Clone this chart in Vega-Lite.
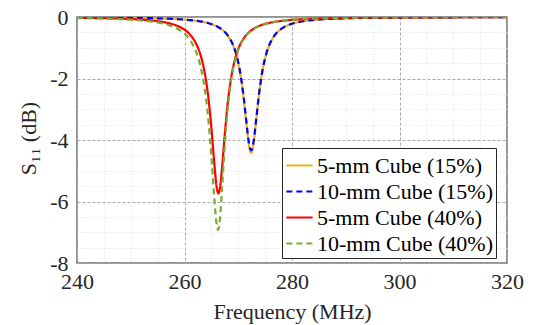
{
  "$schema": "https://vega.github.io/schema/vega-lite/v6.json",
  "width": 430,
  "height": 246,
  "autosize": {"type": "none"},
  "padding": {"left": 77, "top": 17, "right": 34, "bottom": 62},
  "background": "white",
  "config": {
    "view": {"stroke": "#707070", "strokeWidth": 1.5},
    "font": "Liberation Serif",
    "legend": {
      "orient": "none", "legendX": 205, "legendY": 131, "direction": "vertical",
      "fillColor": "white", "strokeColor": "#262626", "padding": 3,
      "labelFont": "Liberation Serif", "labelFontSize": 22, "labelColor": "#000000", "labelLimit": 400,
      "symbolType": "stroke", "symbolSize": 690, "symbolStrokeWidth": 2,
      "rowPadding": 0, "labelOffset": 3, "cornerRadius": 0
    }
  },
  "data": {"values": [
    {"series": "5-mm Cube (15%)", "freq": 240, "s11": -0.0128},
    {"series": "5-mm Cube (15%)", "freq": 245, "s11": -0.0178},
    {"series": "5-mm Cube (15%)", "freq": 250, "s11": -0.0266},
    {"series": "5-mm Cube (15%)", "freq": 254, "s11": -0.0393},
    {"series": "5-mm Cube (15%)", "freq": 257, "s11": -0.0559},
    {"series": "5-mm Cube (15%)", "freq": 259, "s11": -0.0735},
    {"series": "5-mm Cube (15%)", "freq": 261, "s11": -0.1008},
    {"series": "5-mm Cube (15%)", "freq": 263, "s11": -0.1465},
    {"series": "5-mm Cube (15%)", "freq": 264.5, "s11": -0.2045},
    {"series": "5-mm Cube (15%)", "freq": 266, "s11": -0.3037},
    {"series": "5-mm Cube (15%)", "freq": 267, "s11": -0.4142},
    {"series": "5-mm Cube (15%)", "freq": 268, "s11": -0.5939},
    {"series": "5-mm Cube (15%)", "freq": 268.5, "s11": -0.7276},
    {"series": "5-mm Cube (15%)", "freq": 269, "s11": -0.9076},
    {"series": "5-mm Cube (15%)", "freq": 269.5, "s11": -1.1545},
    {"series": "5-mm Cube (15%)", "freq": 270, "s11": -1.498},
    {"series": "5-mm Cube (15%)", "freq": 270.5, "s11": -1.979},
    {"series": "5-mm Cube (15%)", "freq": 271, "s11": -2.635},
    {"series": "5-mm Cube (15%)", "freq": 271.5, "s11": -3.443},
    {"series": "5-mm Cube (15%)", "freq": 272, "s11": -4.186},
    {"series": "5-mm Cube (15%)", "freq": 272.4, "s11": -4.425},
    {"series": "5-mm Cube (15%)", "freq": 272.8, "s11": -4.186},
    {"series": "5-mm Cube (15%)", "freq": 273.3, "s11": -3.443},
    {"series": "5-mm Cube (15%)", "freq": 273.8, "s11": -2.635},
    {"series": "5-mm Cube (15%)", "freq": 274.3, "s11": -1.979},
    {"series": "5-mm Cube (15%)", "freq": 274.8, "s11": -1.498},
    {"series": "5-mm Cube (15%)", "freq": 275.3, "s11": -1.1545},
    {"series": "5-mm Cube (15%)", "freq": 275.8, "s11": -0.9076},
    {"series": "5-mm Cube (15%)", "freq": 276.5, "s11": -0.6694},
    {"series": "5-mm Cube (15%)", "freq": 277.5, "s11": -0.4588},
    {"series": "5-mm Cube (15%)", "freq": 278.5, "s11": -0.3318},
    {"series": "5-mm Cube (15%)", "freq": 280, "s11": -0.2201},
    {"series": "5-mm Cube (15%)", "freq": 282, "s11": -0.1407},
    {"series": "5-mm Cube (15%)", "freq": 285, "s11": -0.0829},
    {"series": "5-mm Cube (15%)", "freq": 290, "s11": -0.0429},
    {"series": "5-mm Cube (15%)", "freq": 296, "s11": -0.0240},
    {"series": "5-mm Cube (15%)", "freq": 304, "s11": -0.0134},
    {"series": "5-mm Cube (15%)", "freq": 312, "s11": -0.0085},
    {"series": "5-mm Cube (15%)", "freq": 320, "s11": -0.0059},

    {"series": "10-mm Cube (15%)", "freq": 240, "s11": -0.0126},
    {"series": "10-mm Cube (15%)", "freq": 245, "s11": -0.0176},
    {"series": "10-mm Cube (15%)", "freq": 250, "s11": -0.0263},
    {"series": "10-mm Cube (15%)", "freq": 254, "s11": -0.0389},
    {"series": "10-mm Cube (15%)", "freq": 257, "s11": -0.0553},
    {"series": "10-mm Cube (15%)", "freq": 259, "s11": -0.0727},
    {"series": "10-mm Cube (15%)", "freq": 261, "s11": -0.0997},
    {"series": "10-mm Cube (15%)", "freq": 263, "s11": -0.1449},
    {"series": "10-mm Cube (15%)", "freq": 264.5, "s11": -0.2022},
    {"series": "10-mm Cube (15%)", "freq": 266, "s11": -0.3002},
    {"series": "10-mm Cube (15%)", "freq": 267, "s11": -0.4095},
    {"series": "10-mm Cube (15%)", "freq": 268, "s11": -0.5869},
    {"series": "10-mm Cube (15%)", "freq": 268.5, "s11": -0.719},
    {"series": "10-mm Cube (15%)", "freq": 269, "s11": -0.8966},
    {"series": "10-mm Cube (15%)", "freq": 269.5, "s11": -1.140},
    {"series": "10-mm Cube (15%)", "freq": 270, "s11": -1.479},
    {"series": "10-mm Cube (15%)", "freq": 270.5, "s11": -1.952},
    {"series": "10-mm Cube (15%)", "freq": 271, "s11": -2.595},
    {"series": "10-mm Cube (15%)", "freq": 271.5, "s11": -3.386},
    {"series": "10-mm Cube (15%)", "freq": 272, "s11": -4.109},
    {"series": "10-mm Cube (15%)", "freq": 272.4, "s11": -4.342},
    {"series": "10-mm Cube (15%)", "freq": 272.8, "s11": -4.109},
    {"series": "10-mm Cube (15%)", "freq": 273.3, "s11": -3.386},
    {"series": "10-mm Cube (15%)", "freq": 273.8, "s11": -2.595},
    {"series": "10-mm Cube (15%)", "freq": 274.3, "s11": -1.952},
    {"series": "10-mm Cube (15%)", "freq": 274.8, "s11": -1.479},
    {"series": "10-mm Cube (15%)", "freq": 275.3, "s11": -1.140},
    {"series": "10-mm Cube (15%)", "freq": 275.8, "s11": -0.8966},
    {"series": "10-mm Cube (15%)", "freq": 276.5, "s11": -0.6615},
    {"series": "10-mm Cube (15%)", "freq": 277.5, "s11": -0.4535},
    {"series": "10-mm Cube (15%)", "freq": 278.5, "s11": -0.328},
    {"series": "10-mm Cube (15%)", "freq": 280, "s11": -0.2176},
    {"series": "10-mm Cube (15%)", "freq": 282, "s11": -0.1392},
    {"series": "10-mm Cube (15%)", "freq": 285, "s11": -0.0820},
    {"series": "10-mm Cube (15%)", "freq": 290, "s11": -0.0425},
    {"series": "10-mm Cube (15%)", "freq": 296, "s11": -0.0237},
    {"series": "10-mm Cube (15%)", "freq": 304, "s11": -0.0133},
    {"series": "10-mm Cube (15%)", "freq": 312, "s11": -0.0084},
    {"series": "10-mm Cube (15%)", "freq": 320, "s11": -0.0059},

    {"series": "5-mm Cube (40%)", "freq": 240, "s11": -0.0257},
    {"series": "5-mm Cube (40%)", "freq": 244, "s11": -0.0357},
    {"series": "5-mm Cube (40%)", "freq": 248, "s11": -0.0528},
    {"series": "5-mm Cube (40%)", "freq": 251, "s11": -0.0752},
    {"series": "5-mm Cube (40%)", "freq": 254, "s11": -0.1155},
    {"series": "5-mm Cube (40%)", "freq": 256, "s11": -0.1631},
    {"series": "5-mm Cube (40%)", "freq": 257.5, "s11": -0.2208},
    {"series": "5-mm Cube (40%)", "freq": 259, "s11": -0.3147},
    {"series": "5-mm Cube (40%)", "freq": 260, "s11": -0.4138},
    {"series": "5-mm Cube (40%)", "freq": 261, "s11": -0.5658},
    {"series": "5-mm Cube (40%)", "freq": 262, "s11": -0.8134},
    {"series": "5-mm Cube (40%)", "freq": 262.5, "s11": -0.9978},
    {"series": "5-mm Cube (40%)", "freq": 263, "s11": -1.2461},
    {"series": "5-mm Cube (40%)", "freq": 263.5, "s11": -1.5862},
    {"series": "5-mm Cube (40%)", "freq": 264, "s11": -2.0586},
    {"series": "5-mm Cube (40%)", "freq": 264.5, "s11": -2.7155},
    {"series": "5-mm Cube (40%)", "freq": 265, "s11": -3.600},
    {"series": "5-mm Cube (40%)", "freq": 265.5, "s11": -4.660},
    {"series": "5-mm Cube (40%)", "freq": 266, "s11": -5.551},
    {"series": "5-mm Cube (40%)", "freq": 266.3, "s11": -5.735},
    {"series": "5-mm Cube (40%)", "freq": 266.6, "s11": -5.551},
    {"series": "5-mm Cube (40%)", "freq": 267, "s11": -4.870},
    {"series": "5-mm Cube (40%)", "freq": 267.5, "s11": -3.803},
    {"series": "5-mm Cube (40%)", "freq": 268, "s11": -2.873},
    {"series": "5-mm Cube (40%)", "freq": 268.5, "s11": -2.173},
    {"series": "5-mm Cube (40%)", "freq": 269, "s11": -1.6685},
    {"series": "5-mm Cube (40%)", "freq": 269.5, "s11": -1.3057},
    {"series": "5-mm Cube (40%)", "freq": 270, "s11": -1.0417},
    {"series": "5-mm Cube (40%)", "freq": 271, "s11": -0.6987},
    {"series": "5-mm Cube (40%)", "freq": 272, "s11": -0.4966},
    {"series": "5-mm Cube (40%)", "freq": 273, "s11": -0.3693},
    {"series": "5-mm Cube (40%)", "freq": 274.5, "s11": -0.2526},
    {"series": "5-mm Cube (40%)", "freq": 276, "s11": -0.1831},
    {"series": "5-mm Cube (40%)", "freq": 278, "s11": -0.1273},
    {"series": "5-mm Cube (40%)", "freq": 281, "s11": -0.0814},
    {"series": "5-mm Cube (40%)", "freq": 285, "s11": -0.0506},
    {"series": "5-mm Cube (40%)", "freq": 290, "s11": -0.0316},
    {"series": "5-mm Cube (40%)", "freq": 298, "s11": -0.0177},
    {"series": "5-mm Cube (40%)", "freq": 308, "s11": -0.0103},
    {"series": "5-mm Cube (40%)", "freq": 320, "s11": -0.0062},

    {"series": "10-mm Cube (40%)", "freq": 240, "s11": -0.0338},
    {"series": "10-mm Cube (40%)", "freq": 244, "s11": -0.0469},
    {"series": "10-mm Cube (40%)", "freq": 248, "s11": -0.0694},
    {"series": "10-mm Cube (40%)", "freq": 251, "s11": -0.0989},
    {"series": "10-mm Cube (40%)", "freq": 254, "s11": -0.1518},
    {"series": "10-mm Cube (40%)", "freq": 256, "s11": -0.2145},
    {"series": "10-mm Cube (40%)", "freq": 257.5, "s11": -0.2903},
    {"series": "10-mm Cube (40%)", "freq": 259, "s11": -0.4135},
    {"series": "10-mm Cube (40%)", "freq": 260, "s11": -0.5432},
    {"series": "10-mm Cube (40%)", "freq": 261, "s11": -0.7417},
    {"series": "10-mm Cube (40%)", "freq": 262, "s11": -1.0627},
    {"series": "10-mm Cube (40%)", "freq": 262.5, "s11": -1.3003},
    {"series": "10-mm Cube (40%)", "freq": 263, "s11": -1.618},
    {"series": "10-mm Cube (40%)", "freq": 263.5, "s11": -2.049},
    {"series": "10-mm Cube (40%)", "freq": 264, "s11": -2.642},
    {"series": "10-mm Cube (40%)", "freq": 264.5, "s11": -3.454},
    {"series": "10-mm Cube (40%)", "freq": 265, "s11": -4.527},
    {"series": "10-mm Cube (40%)", "freq": 265.5, "s11": -5.780},
    {"series": "10-mm Cube (40%)", "freq": 266, "s11": -6.772},
    {"series": "10-mm Cube (40%)", "freq": 266.25, "s11": -6.925},
    {"series": "10-mm Cube (40%)", "freq": 266.6, "s11": -6.556},
    {"series": "10-mm Cube (40%)", "freq": 267, "s11": -5.535},
    {"series": "10-mm Cube (40%)", "freq": 267.5, "s11": -4.148},
    {"series": "10-mm Cube (40%)", "freq": 268, "s11": -3.052},
    {"series": "10-mm Cube (40%)", "freq": 268.5, "s11": -2.271},
    {"series": "10-mm Cube (40%)", "freq": 269, "s11": -1.7266},
    {"series": "10-mm Cube (40%)", "freq": 269.5, "s11": -1.3429},
    {"series": "10-mm Cube (40%)", "freq": 270, "s11": -1.0672},
    {"series": "10-mm Cube (40%)", "freq": 271, "s11": -0.7129},
    {"series": "10-mm Cube (40%)", "freq": 272, "s11": -0.5057},
    {"series": "10-mm Cube (40%)", "freq": 273, "s11": -0.3759},
    {"series": "10-mm Cube (40%)", "freq": 274.5, "s11": -0.2571},
    {"series": "10-mm Cube (40%)", "freq": 276, "s11": -0.1864},
    {"series": "10-mm Cube (40%)", "freq": 278, "s11": -0.1296},
    {"series": "10-mm Cube (40%)", "freq": 281, "s11": -0.0829},
    {"series": "10-mm Cube (40%)", "freq": 285, "s11": -0.0516},
    {"series": "10-mm Cube (40%)", "freq": 290, "s11": -0.0323},
    {"series": "10-mm Cube (40%)", "freq": 298, "s11": -0.0181},
    {"series": "10-mm Cube (40%)", "freq": 308, "s11": -0.0105},
    {"series": "10-mm Cube (40%)", "freq": 320, "s11": -0.0063}
  ]},
  "mark": {"type": "line", "strokeWidth": 2.2, "interpolate": "monotone", "clip": true},
  "encoding": {
    "x": {
      "field": "freq", "type": "quantitative",
      "scale": {"domain": [240, 320], "nice": false},
      "axis": {
        "values": [240,245,250,255,260,265,270,275,280,285,290,295,300,305,310,315,320],
        "labelExpr": "datum.value % 20 === 0 ? datum.label : ''",
        "labelOverlap": false, "labelFlush": false,
        "labelFont": "Liberation Serif", "labelFontSize": 22, "labelColor": "#262626", "labelPadding": 8,
        "title": "Frequency (MHz)", "titleFont": "Liberation Serif", "titleFontSize": 22, "titleFontWeight": "normal",
        "titleColor": "#262626", "titleY": 55, "titleBaseline": "alphabetic",
        "domain": false, "ticks": false,
        "grid": true,
        "gridColor": {"condition": {"test": "datum.value % 20 === 0", "value": "#a8a8a8"}, "value": "#e0e0e0"},
        "gridDash": {"condition": {"test": "datum.value % 20 === 0", "value": [3, 2]}, "value": [1, 2]},
        "gridWidth": 1
      }
    },
    "y": {
      "field": "s11", "type": "quantitative",
      "scale": {"domain": [-8, 0], "nice": false},
      "axis": {
        "values": [-8,-7.5,-7,-6.5,-6,-5.5,-5,-4.5,-4,-3.5,-3,-2.5,-2,-1.5,-1,-0.5,0],
        "labelExpr": "datum.value % 2 === 0 ? toString(datum.value) : ''",
        "labelOverlap": false, "labelFlush": false,
        "labelFont": "Liberation Serif", "labelFontSize": 22, "labelColor": "#262626", "labelPadding": 9,
        "title": "S₁₁ (dB)", "titleFont": "Liberation Serif", "titleFontSize": 22, "titleFontWeight": "normal",
        "titleColor": "#262626", "titleX": -42, "titleY": 121, "titleBaseline": "alphabetic", "titleAngle": -90, "titleAlign": "center",
        "domain": false, "ticks": false,
        "grid": true,
        "gridColor": {"condition": {"test": "datum.value % 2 === 0", "value": "#a8a8a8"}, "value": "#e0e0e0"},
        "gridDash": {"condition": {"test": "datum.value % 2 === 0", "value": [3, 2]}, "value": [1, 2]},
        "gridWidth": 1
      }
    },
    "color": {
      "field": "series", "type": "nominal",
      "scale": {"domain": ["5-mm Cube (15%)", "10-mm Cube (15%)", "5-mm Cube (40%)", "10-mm Cube (40%)"],
                "range": ["#EDB120", "#0000FF", "#FF0000", "#77AC30"]},
      "legend": {"title": null}
    },
    "strokeDash": {
      "field": "series", "type": "nominal",
      "scale": {"domain": ["5-mm Cube (15%)", "10-mm Cube (15%)", "5-mm Cube (40%)", "10-mm Cube (40%)"],
                "range": [[1, 0], [6, 4], [1, 0], [6, 4]]},
      "legend": {"title": null}
    }
  }
}
